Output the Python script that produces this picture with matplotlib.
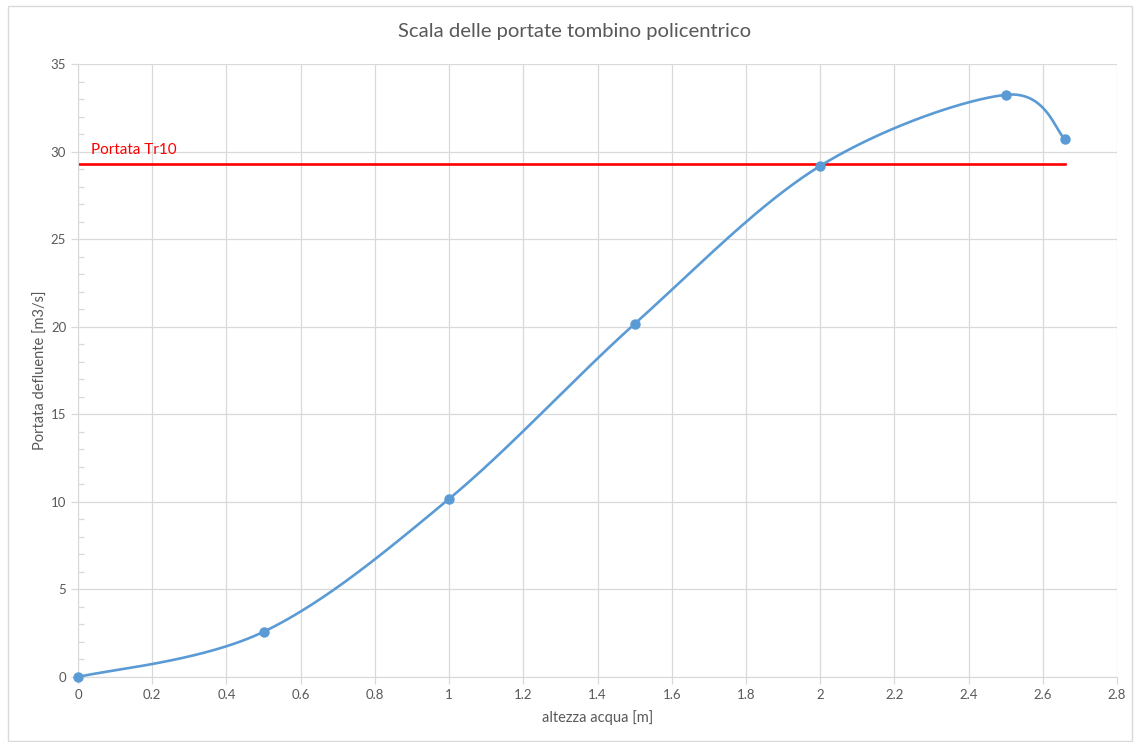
import numpy as np
import matplotlib.pyplot as plt
from matplotlib import ticker
from matplotlib.patches import Rectangle

plt.rcParams['font.family'] = ['Lato', 'DejaVu Sans']

# dati scala delle portate
altezza = [0, 0.5, 1.0, 1.5, 2.0, 2.5, 2.66]
portata = [0, 2.58, 10.17, 20.16, 29.18, 33.24, 30.72]
portata_tr10 = 29.3
tr10_x = [0, 2.66]

grid_c = '#d9d9d9'
text_c = '#595959'
blue = '#5b9bd5'

fig = plt.figure(figsize=(11.34, 7.42), dpi=100)
ax = fig.add_axes([78/1134, 1 - 677/742, (1117-78)/1134, (677-64)/742])
ax.set_xlim(0, 2.8)
ax.set_ylim(0, 35)


def excel_smooth(x, y, sx, sy, n=60):
    # curva smussata tipo Excel (Bezier catmull-rom in coordinate schermo)
    p = np.column_stack([np.asarray(x) * sx, np.asarray(y) * sy])
    pts = np.vstack([p[0], p, p[-1]])
    out = []
    t = np.linspace(0, 1, n)[:, None]
    for i in range(1, len(pts) - 2):
        p0, p1, p2, p3 = pts[i-1], pts[i], pts[i+1], pts[i+2]
        c1 = p1 + (p2 - p0) / 6
        c2 = p2 - (p3 - p1) / 6
        seg = ((1-t)**3)*p1 + 3*((1-t)**2)*t*c1 + 3*(1-t)*t**2*c2 + t**3*p2
        out.append(seg)
    out = np.vstack(out)
    return out[:, 0] / sx, out[:, 1] / sy


sx = (1117 - 78) / 2.8
sy = (677 - 64) / 35
cx, cy = excel_smooth(altezza, portata, sx, sy)
ax.plot(cx, cy, color=blue, lw=1.9, zorder=3, solid_capstyle='round')
ax.plot(altezza, portata, 'o', color=blue, ms=6.5, zorder=4, clip_on=False)

ax.plot(tr10_x, [portata_tr10, portata_tr10], color='#ff0000', lw=1.9, zorder=2)
ax.text(0.035, 29.85, 'Portata Tr10', color='#ff0000', fontsize=11)

ax.xaxis.set_major_locator(ticker.MultipleLocator(0.2))
ax.yaxis.set_major_locator(ticker.MultipleLocator(5))
ax.yaxis.set_minor_locator(ticker.MultipleLocator(1))
ax.xaxis.set_major_formatter(ticker.FuncFormatter(lambda v, p: f'{v:g}'))
ax.grid(True, color=grid_c, lw=0.9)
ax.set_axisbelow(True)
for s in ['top', 'right']:
    ax.spines[s].set_visible(False)
for s in ['left', 'bottom']:
    ax.spines[s].set_color(grid_c)
ax.tick_params(axis='both', which='major', colors=grid_c, labelcolor=text_c,
               labelsize=9.5, length=5, width=0.9)
ax.tick_params(axis='y', which='minor', direction='in', length=4, color=grid_c, width=0.9)

ax.set_xlabel('altezza acqua [m]', color=text_c, fontsize=10.5, labelpad=7)
ax.set_ylabel('Portata defluente [m3/s]', color=text_c, fontsize=10.5, labelpad=2)
fig.suptitle('Scala delle portate tombino policentrico', color=text_c,
             fontsize=14.6, x=575/1134, y=1 - 32/742, va='center')

fig.patches.append(Rectangle((8/1134, 1/742), 1124/1134, 735/742,
                             transform=fig.transFigure, fill=False,
                             edgecolor=grid_c, lw=1))

fig.savefig('out.png', dpi=100)
